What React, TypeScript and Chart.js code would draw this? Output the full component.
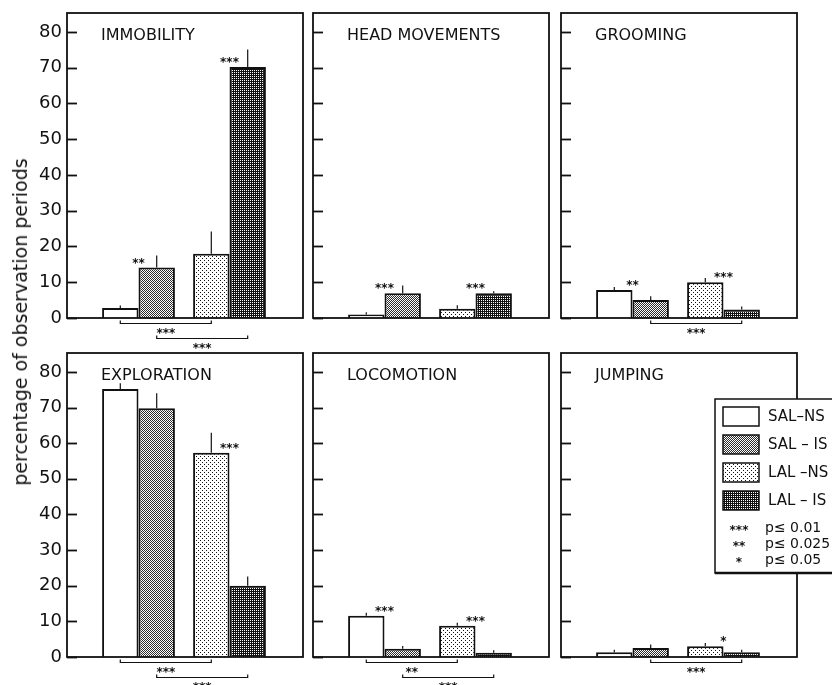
import React, { useEffect, useRef } from "react";
import { Chart, registerables } from "chart.js";

Chart.register(...registerables);

// ---------- data ----------
const GROUPS = ["SAL", "LAL"];
const SERIES = ["SAL–NS", "SAL – IS", "LAL –NS", "LAL – IS"];
const PANELS = ["IMMOBILITY", "HEAD MOVEMENTS", "GROOMING", "EXPLORATION", "LOCOMOTION", "JUMPING"];

// values per panel, order: SAL-NS, SAL-IS, LAL-NS, LAL-IS
const IMMOBILITY = [2.8, 14.1, 18.0, 70.2];
const HEAD_MOVEMENTS = [1.0, 6.9, 2.6, 6.9];
const GROOMING = [7.8, 5.0, 10.0, 2.4];
const EXPLORATION = [75.2, 69.8, 57.3, 20.0];
const LOCOMOTION = [11.6, 2.3, 8.8, 1.2];
const JUMPING = [1.3, 2.5, 3.0, 1.3];

const IMMOBILITY_SEM = [0.7, 3.4, 6.2, 4.9];
const HEAD_MOVEMENTS_SEM = [0.6, 2.2, 1.0, 0.6];
const GROOMING_SEM = [0.9, 1.1, 1.2, 0.8];
const EXPLORATION_SEM = [1.6, 4.2, 5.6, 2.6];
const LOCOMOTION_SEM = [0.8, 0.8, 0.8, 0.7];
const JUMPING_SEM = [0.7, 1.0, 0.9, 0.7];

const SIG_SAL = ["**", "***", "**", "", "***", ""];
const SIG_LAL = ["***", "***", "***", "***", "***", "*"];
const BRACKET_NS = ["***", "", "", "***", "**", ""];
const BRACKET_IS = ["***", "", "***", "***", "***", "***"];

const Y_TICKS = [0, 10, 20, 30, 40, 50, 60, 70, 80];
const P_MARKS = ["***", "**", "*"];
const P_LABELS = ["p≤ 0.01", "p≤ 0.025", "p≤ 0.05"];
const Y_TITLE = "percentage of observation periods";

const PANEL_VALUES = [IMMOBILITY, HEAD_MOVEMENTS, GROOMING, EXPLORATION, LOCOMOTION, JUMPING];
const PANEL_SEMS = [IMMOBILITY_SEM, HEAD_MOVEMENTS_SEM, GROOMING_SEM, EXPLORATION_SEM, LOCOMOTION_SEM, JUMPING_SEM];

// ---------- layout ----------
const COLS = [67, 313, 561];
const FRAME_W = 236;
const ROWS = [
  { top: 13, bottom: 318, canvasTop: 0, canvasH: 352 },
  { top: 353, bottom: 657, canvasTop: 340, canvasH: 345 },
];
const FONT = '"DejaVu Sans", "Liberation Sans", sans-serif';

function makePattern(ctx: CanvasRenderingContext2D, kind: string) {
  const t = document.createElement("canvas");
  const c = t.getContext("2d") as CanvasRenderingContext2D;
  if (kind === "salIs") {
    t.width = 2; t.height = 2;
    c.fillStyle = "#fff"; c.fillRect(0, 0, 2, 2);
    c.fillStyle = "#2a2a2a"; c.fillRect(0, 0, 1, 1); c.fillRect(1, 1, 1, 1);
  } else if (kind === "lalNs") {
    t.width = 4; t.height = 4;
    c.fillStyle = "#fff"; c.fillRect(0, 0, 4, 4);
    c.fillStyle = "#111"; c.fillRect(0, 0, 1, 1); c.fillRect(2, 2, 1, 1);
  } else {
    t.width = 2; t.height = 2;
    c.fillStyle = "#111"; c.fillRect(0, 0, 2, 2);
    c.fillStyle = "#fff"; c.fillRect(0, 0, 1, 1);
  }
  return ctx.createPattern(t, "repeat") as CanvasPattern;
}

function Panel({ index }: { index: number }) {
  const ref = useRef<HTMLCanvasElement | null>(null);
  const col = index % 3;
  const row = ROWS[Math.floor(index / 3)];
  const frameL = COLS[col];
  const padL = col === 0 ? frameL : 4;
  const padR = index === 5 ? 832 - (frameL + FRAME_W) : 4;
  const canvasLeft = frameL - padL;
  const canvasW = padL + FRAME_W + padR;

  useEffect(() => {
    const canvas = ref.current;
    if (!canvas) return;
    const ctx0 = canvas.getContext("2d") as CanvasRenderingContext2D;
    const pSalIs = makePattern(ctx0, "salIs");
    const pLalNs = makePattern(ctx0, "lalNs");
    const pLalIs = makePattern(ctx0, "lalIs");
    const fills = ["#ffffff", pSalIs, pLalNs, pLalIs];
    const vals = PANEL_VALUES[index];
    const sems = PANEL_SEMS[index];

    const deco = {
      id: "deco",
      afterDraw(chart: any) {
        const { ctx, chartArea: a } = chart;
        const y = chart.scales.y;
        const ns = chart.getDatasetMeta(0).data;
        const is = chart.getDatasetMeta(1).data;
        ctx.save();
        ctx.strokeStyle = "#111";
        ctx.fillStyle = "#111";

        // error bars (upper half only)
        ctx.lineWidth = 1.2;
        GROUPS.forEach((_, i) => {
          [[ns[i], i * 2], [is[i], i * 2 + 1]].forEach(([bar, k]: any) => {
            ctx.beginPath();
            ctx.moveTo(bar.x, y.getPixelForValue(vals[k]));
            ctx.lineTo(bar.x, y.getPixelForValue(vals[k] + sems[k]));
            ctx.stroke();
          });
        });

        // frame
        ctx.lineWidth = 1.8;
        ctx.strokeRect(a.left, a.top, a.right - a.left, a.bottom - a.top);

        // inward ticks
        Y_TICKS.forEach((t) => {
          const py = Math.round(y.getPixelForValue(t)) + 0.5;
          ctx.beginPath();
          ctx.moveTo(a.left, py);
          ctx.lineTo(a.left + 10, py);
          ctx.stroke();
        });

        // panel title
        ctx.font = `16px ${FONT}`;
        ctx.textAlign = "left";
        ctx.textBaseline = "alphabetic";
        ctx.fillText(PANELS[index], a.left + 34, a.top + 27);

        const drawStars = (s: string, cx: number, cy: number) => {
          if (!s) return;
          ctx.font = `bold 12px ${FONT}`;
          ctx.textAlign = "center";
          ctx.textBaseline = "alphabetic";
          const m = ctx.measureText(s);
          const off = (m.actualBoundingBoxAscent - m.actualBoundingBoxDescent) / 2;
          ctx.fillText(s, cx, cy + off);
        };

        // significance above bars
        [SIG_SAL[index], SIG_LAL[index]].forEach((s, i) => {
          const top = Math.max(vals[i * 2], vals[i * 2 + 1]);
          const bar = is[i];
          drawStars(s, bar.x - bar.width / 2, y.getPixelForValue(top) - 7);
        });

        // brackets below axis
        const brackets = ([[BRACKET_NS[index], ns], [BRACKET_IS[index], is]] as any[]).filter((b) => b[0]);
        brackets.forEach(([lab, els]: any, lvl: number) => {
          const by = Math.round(a.bottom + 5 + lvl * 15) + 0.5;
          const x1 = els[0].x;
          const x2 = els[1].x;
          ctx.lineWidth = 1.2;
          ctx.beginPath();
          ctx.moveTo(x1, by - 3);
          ctx.lineTo(x1, by);
          ctx.lineTo(x2, by);
          ctx.lineTo(x2, by - 3);
          ctx.stroke();
          drawStars(lab, (x1 + x2) / 2, by + 7);
        });

        // legend (on the jumping panel)
        if (index === 5) {
          const bx = a.right - 82;
          const bt = a.top + 46;
          const bb = a.top + 220;
          ctx.fillStyle = "#fff";
          ctx.fillRect(bx, bt, 200, bb - bt);
          ctx.lineWidth = 1.5;
          ctx.strokeRect(bx, bt, 200, bb - bt);
          ctx.lineWidth = 2.5;
          ctx.beginPath();
          ctx.moveTo(bx, bb);
          ctx.lineTo(bx + 200, bb);
          ctx.stroke();
          SERIES.forEach((lab, k) => {
            const sy = bt + 8 + k * 28;
            ctx.fillStyle = fills[k] as any;
            ctx.fillRect(a.right - 74, sy, 36, 19);
            ctx.lineWidth = 1.5;
            ctx.strokeRect(a.right - 74, sy, 36, 19);
            ctx.fillStyle = "#111";
            ctx.font = `15px ${FONT}`;
            ctx.textAlign = "left";
            ctx.textBaseline = "middle";
            ctx.fillText(lab, a.right - 29, sy + 10);
          });
          P_MARKS.forEach((mk, k) => {
            const cy = a.top + 175 + k * 16;
            ctx.fillStyle = "#111";
            drawStars(mk, a.right - 58, cy);
            ctx.font = `14px ${FONT}`;
            ctx.textAlign = "left";
            ctx.textBaseline = "middle";
            ctx.fillText(P_LABELS[k], a.right - 32, cy);
          });
        }
        ctx.restore();
      },
    };

    const chart = new Chart(canvas, {
      type: "bar",
      data: {
        datasets: [
          {
            label: "NS",
            data: GROUPS.map((_, i) => ({ x: i + 1, y: vals[i * 2] })),
            backgroundColor: [fills[0], fills[2]] as any,
            borderColor: "#111",
            borderWidth: 2,
            categoryPercentage: 0.8,
            barPercentage: 1.0,
          },
          {
            label: "IS",
            data: GROUPS.map((_, i) => ({ x: i + 1, y: vals[i * 2 + 1] })),
            backgroundColor: [fills[1], fills[3]] as any,
            borderColor: "#111",
            borderWidth: 2,
            categoryPercentage: 0.8,
            barPercentage: 1.0,
          },
        ] as any,
      },
      options: {
        animation: false,
        responsive: false,
        devicePixelRatio: 1,
        layout: {
          padding: {
            top: row.top - row.canvasTop,
            bottom: row.canvasTop + row.canvasH - row.bottom,
            left: 0,
            right: padR,
          },
        },
        plugins: { legend: { display: false }, tooltip: { enabled: false } },
        scales: {
          x: {
            type: "linear",
            display: false,
            offset: false,
            min: 0.2143,
            max: 2.8077,
            afterBuildTicks: (s: any) => {
              s.ticks = GROUPS.map((_, i) => ({ value: i + 1 }));
            },
          },
          y: {
            min: 0,
            max: 85.3,
            display: true,
            grid: { display: false, drawTicks: false },
            border: { display: false },
            afterBuildTicks: (s: any) => {
              s.ticks = Y_TICKS.map((v) => ({ value: v }));
            },
            afterFit: (s: any) => {
              s.width = padL;
              s.paddingTop = 0;
              s.paddingBottom = 0;
            },
            ticks: {
              display: col === 0,
              padding: 5,
              color: "#111",
              font: { family: FONT, size: 18 },
            },
          },
        } as any,
      },
      plugins: [deco],
    });
    return () => chart.destroy();
  }, [index]);

  return (
    <canvas
      ref={ref}
      width={canvasW}
      height={row.canvasH}
      style={{
        position: "absolute",
        left: canvasLeft,
        top: row.canvasTop,
        width: canvasW,
        height: row.canvasH,
        display: "block",
      }}
    />
  );
}

export default function App() {
  return (
    <div
      style={{
        position: "absolute",
        left: 0,
        top: 0,
        width: 832,
        height: 685,
        background: "#fff",
        overflow: "hidden",
      }}
    >
      {PANELS.map((p, i) => (
        <Panel key={p} index={i} />
      ))}
      <div
        style={{
          position: "absolute",
          left: 20,
          top: 322,
          transform: "translate(-50%, -50%) rotate(-90deg)",
          whiteSpace: "nowrap",
          font: `19px ${FONT}`,
          color: "#111",
        }}
      >
        {Y_TITLE}
      </div>
    </div>
  );
}
